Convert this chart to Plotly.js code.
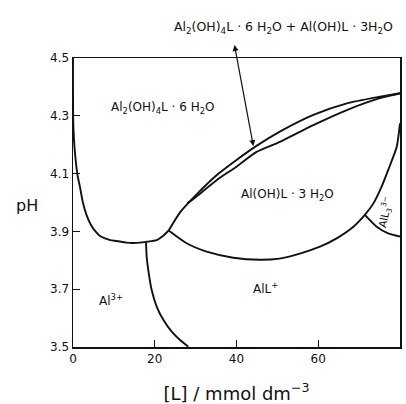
<!DOCTYPE html>
<html>
<head>
<meta charset="utf-8">
<script src="https://cdn.plot.ly/plotly-3.0.1.min.js"></script>
<style>html,body{margin:0;padding:0;background:#fff;}#chart{width:406px;height:404px;}</style>
</head>
<body>
<div id="chart"></div>
<script>
// Boundary A: Al2(OH)4L·6H2O precipitation limit (left, low L)
const boundaryA_L  = [0.0, 0.05, 0.25, 0.6, 1.1, 1.7, 2.45, 3.3, 4.4, 5.6, 6.6, 9.1, 10.7, 13.1, 16.4, 18.0, 20.5, 22.0, 23.4];
const boundaryA_pH = [4.5, 4.285, 4.216, 4.154, 4.095, 4.054, 3.998, 3.957, 3.922, 3.898, 3.884, 3.870, 3.867, 3.861, 3.861, 3.864, 3.870, 3.884, 3.903];
// Boundary B: Al3+ / AlL+
const boundaryB_L  = [17.86, 18.03, 18.42, 19.25, 20.47, 22.1, 24.15, 26.18, 28.2];
const boundaryB_pH = [3.861, 3.812, 3.766, 3.697, 3.640, 3.594, 3.553, 3.524, 3.501];
// Boundary C: Al(OH)L·3H2O lower limit
const boundaryC_L  = [23.4, 27.8, 32.7, 39.2, 45.7, 50.5, 55.5, 60.4, 64.5, 68.6, 71.4, 73.5, 75.5, 77.1, 79.2, 80.0];
const boundaryC_pH = [3.903, 3.859, 3.830, 3.809, 3.802, 3.806, 3.823, 3.847, 3.876, 3.916, 3.957, 3.997, 4.055, 4.112, 4.193, 4.274];
// Boundary D: AlL+ / AlL3 3-
const boundaryD_L  = [71.4, 74.3, 77.1, 80.0];
const boundaryD_pH = [3.957, 3.916, 3.893, 3.882];
// Boundary E: upper limit of mixed region
const boundaryE_L  = [23.4, 26.2, 30.3, 35.2, 40.0, 44.8, 50.6, 58.8, 67.0, 75.1, 80.0];
const boundaryE_pH = [3.903, 3.966, 4.029, 4.095, 4.147, 4.195, 4.245, 4.303, 4.343, 4.366, 4.378];
// Boundary F: lower limit of mixed region
const boundaryF_L  = [28.0, 30.3, 35.2, 40.0, 44.9, 50.6, 58.8, 67.0, 75.1, 80.0];
const boundaryF_pH = [3.997, 4.022, 4.078, 4.124, 4.175, 4.210, 4.268, 4.320, 4.361, 4.377];

const xTicks = [0, 20, 40, 60, 80];
const yTicks = [3.5, 3.7, 3.9, 4.1, 4.3, 4.5];

const labelText = ["Al<sub>2</sub>(OH)<sub>4</sub>L · 6 H<sub>2</sub>O", "Al(OH)L · 3 H<sub>2</sub>O", "Al<sup>3+</sup>", "AlL<sup>+</sup>", "AlL<sub>3</sub><sup>3−</sup>"];
const labelL  = [22.0, 52.4, 9.3, 47.2, 76.4];
const labelPH = [4.327, 4.026, 3.663, 3.704, 3.965];
const labelAngle = [0, 0, 0, 0, -78];
const topLabel = "Al<sub>2</sub>(OH)<sub>4</sub>L · 6 H<sub>2</sub>O + Al(OH)L · 3H<sub>2</sub>O";

const lineStyle = {color: '#111', width: 1.9, shape: 'spline', smoothing: 0.6};
function tr(x, y) { return {x: x, y: y, mode: 'lines', line: lineStyle, hoverinfo: 'skip', showlegend: false, cliponaxis: true}; }

const data = [
  tr(boundaryA_L, boundaryA_pH),
  tr(boundaryB_L, boundaryB_pH),
  tr(boundaryC_L, boundaryC_pH),
  tr(boundaryD_L, boundaryD_pH),
  tr(boundaryE_L, boundaryE_pH),
  tr(boundaryF_L, boundaryF_pH)
];

const font = "DejaVu Sans, Arial, sans-serif";
const annotations = labelText.map((t, i) => ({
  x: labelL[i], y: labelPH[i], xref: 'x', yref: 'y', text: t, showarrow: false,
  xanchor: 'center', yanchor: 'middle',
  textangle: labelAngle[i], font: {family: font, size: i === 4 ? 10.5 : 12, color: '#111'}
}));
annotations.push({
  xref: 'paper', yref: 'paper', x: 0.645, y: 1.105, text: topLabel, showarrow: false,
  xanchor: 'center', yanchor: 'middle',
  font: {family: font, size: 12.5, color: '#111'}
});
annotations.push({
  xref: 'paper', yref: 'paper', x: -0.14, y: 0.49, text: 'pH', showarrow: false,
  xanchor: 'center', yanchor: 'middle',
  font: {family: font, size: 16, color: '#111'}
});
annotations.push({
  x: 39.5, y: 4.545, xref: 'x', yref: 'y',
  ax: 44.2, ay: 4.19, axref: 'x', ayref: 'y',
  text: '', showarrow: true, arrowhead: 2, arrowsize: 1, arrowwidth: 1.2,
  arrowside: 'end+start', arrowcolor: '#111', startarrowhead: 2, startarrowsize: 1
});

const axisCommon = {
  showline: true, mirror: true, linecolor: '#111', linewidth: 1.5,
  ticks: 'inside', ticklen: 7, tickwidth: 1.2, tickcolor: '#111',
  showgrid: false, zeroline: false,
  tickfont: {family: font, size: 12, color: '#111'}
};

const layout = {
  width: 406, height: 404,
  margin: {l: 73, r: 6, t: 58, b: 57},
  paper_bgcolor: '#fff', plot_bgcolor: '#fff',
  xaxis: Object.assign({}, axisCommon, {
    range: [0, 80], tickvals: xTicks, ticktext: xTicks.map(String),
    title: {text: '[L] / mmol dm<sup>−3</sup>', font: {family: font, size: 18, color: '#111'}, standoff: 26}
  }),
  yaxis: Object.assign({}, axisCommon, {
    range: [3.5, 4.5], tickvals: yTicks, ticktext: yTicks.map(v => v.toFixed(1))
  }),
  annotations: annotations,
  showlegend: false
};

Plotly.newPlot('chart', data, layout, {staticPlot: true, displayModeBar: false});
</script>
</body>
</html>
